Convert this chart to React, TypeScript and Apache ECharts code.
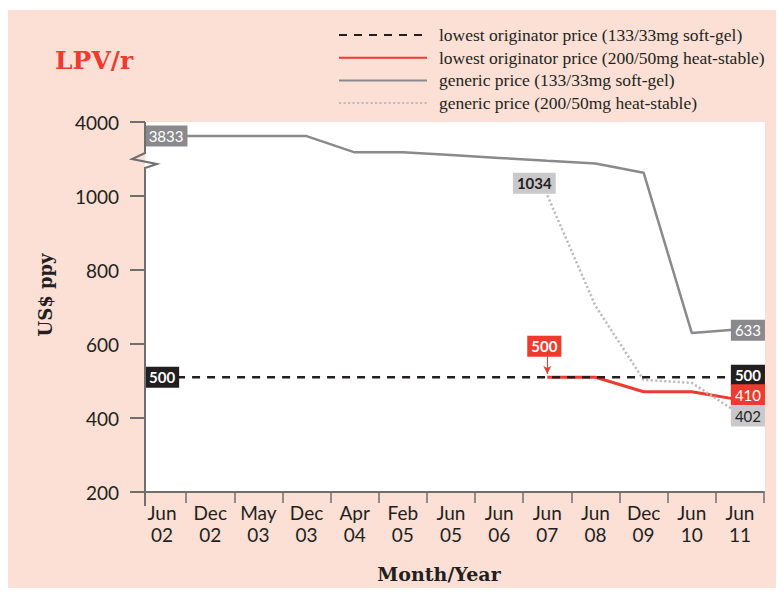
import React, { useEffect, useRef } from 'react';
import * as echarts from 'echarts';

// ---- data ----
const categories = ['Jun\n02', 'Dec\n02', 'May\n03', 'Dec\n03', 'Apr\n04', 'Feb\n05', 'Jun\n05', 'Jun\n06', 'Jun\n07', 'Jun\n08', 'Dec\n09', 'Jun\n10', 'Jun\n11'];

const seriesNames = [
  'lowest originator price (133/33mg soft-gel)',
  'lowest originator price (200/50mg heat-stable)',
  'generic price (133/33mg soft-gel)',
  'generic price (200/50mg heat-stable)',
];

// US$ per patient per year
const originatorSoftGel = [510, 510, 510, 510, 510, 510, 510, 510, 510, 510, 510, 510, 510];
const originatorHeatStable = [null, null, null, null, null, null, null, null, 510, 510, 471, 471, 449];
const genericSoftGel = [3833, 3833, 3833, 3833, 3063, 3063, 2941, 2801, 2661, 2539, 2102, 630, 640];
const genericHeatStable = [null, null, null, null, null, null, null, null, 1034, 703, 503, 495, 411];

// y-axis ticks (shown scale) — the top tick lies above the axis break
const yMin = 200;
const yMax = 1200;
const yStep = 200;

// axis break: real values above 1000 are compressed
const breakReal = [1000, 3833, 4000];
const breakShown = [1000, 1162, 1200];

// value callouts: [series index, category index, text]
const calloutSeries = [2, 0, 2, 0, 1, 3, 3, 1];
const calloutIndex = [0, 0, 12, 12, 12, 12, 8, 8];
const calloutText = ['3833', '500', '633', '500', '410', '402', '1034', '500'];

const COLORS = {
  black: '#231f20',
  red: '#ee3a2f',
  gray: '#8a8a8d',
  light: '#bcbcbf',
  lightBox: '#c9c9cb',
  axis: '#6f6f6f',
  pink: '#fcdfd5',
};

function toShown(v: number | null): number | null {
  if (v === null) return null;
  if (v <= breakReal[0]) return v;
  for (let i = 1; i < breakReal.length; i++) {
    if (v <= breakReal[i] || i === breakReal.length - 1) {
      const t = (v - breakReal[i - 1]) / (breakReal[i] - breakReal[i - 1]);
      return breakShown[i - 1] + t * (breakShown[i] - breakShown[i - 1]);
    }
  }
  return v;
}

function toReal(s: number): number {
  if (s <= breakShown[0]) return s;
  for (let i = 1; i < breakShown.length; i++) {
    if (s <= breakShown[i] || i === breakShown.length - 1) {
      const t = (s - breakShown[i - 1]) / (breakShown[i] - breakShown[i - 1]);
      return Math.round(breakReal[i - 1] + t * (breakReal[i] - breakReal[i - 1]));
    }
  }
  return s;
}

const allData = [originatorSoftGel, originatorHeatStable, genericSoftGel, genericHeatStable];

function calloutLook(k: number) {
  const text = calloutText[k];
  const s = calloutSeries[k];
  const idx = calloutIndex[k];
  let bg = COLORS.gray;
  let color = '#ffffff';
  let weight: any = 'normal';
  let offset = [0, 0];
  if (s === 0) { bg = COLORS.black; weight = 'bold'; }
  if (s === 1) { bg = COLORS.red; }
  if (s === 3) { bg = COLORS.lightBox; color = COLORS.black; }
  if (s === 2 && idx === 0) offset = [4, 0];
  if (idx === 12) {
    offset = s === 2 ? [8, 1] : s === 0 ? [8, -2] : s === 1 ? [8, -5] : [8, 2];
  }
  if (s === 3 && idx === 8) { offset = [-13, -12]; weight = 'bold'; }
  if (s === 1 && idx === 8) { offset = [-3, -31]; weight = 'bold'; }
  return {
    coord: [idx, toShown(allData[s][idx] as number)],
    symbolSize: 1,
    itemStyle: { color: 'rgba(0,0,0,0)' },
    label: {
      show: true,
      position: 'inside',
      formatter: text,
      backgroundColor: bg,
      color,
      fontWeight: weight,
      fontFamily: 'Lato',
      fontSize: 15,
      lineHeight: 17,
      padding: [2, 4, 2, 4],
      offset,
    },
  };
}

function calloutsFor(s: number) {
  const out: any[] = [];
  for (let k = 0; k < calloutText.length; k++) if (calloutSeries[k] === s) out.push(calloutLook(k));
  return out;
}

export default function App() {
  const ref = useRef<HTMLDivElement>(null);
  useEffect(() => {
    if (!ref.current) return;
    const chart = echarts.init(ref.current, null, { renderer: 'svg' });

    const lineStyles = [
      { color: COLORS.black, width: 2.5, type: [8, 7] },
      { color: COLORS.red, width: 3, type: 'solid' },
      { color: COLORS.gray, width: 2.5, type: 'solid' },
      { color: COLORS.light, width: 2.5, type: [2.2, 2.3] },
    ];

    const series: any[] = allData.map((arr, s) => ({
      name: seriesNames[s],
      type: 'line',
      data: arr.map((v) => toShown(v as any)),
      symbol: 'none',
      z: s === 0 ? 4 : 2,
      lineStyle: lineStyles[s],
      itemStyle: { color: lineStyles[s].color },
      connectNulls: false,
      markPoint: {
        symbol: 'circle',
        silent: true,
        z: 6,
        data: calloutsFor(s),
      },
    }));

    // arrow from the red "500" callout to the line
    series[1].markLine = {
      silent: true,
      symbol: ['none', 'arrow'],
      symbolSize: [6, 8],
      label: { show: false },
      lineStyle: { color: COLORS.red, width: 1, type: 'solid' },
      data: [[{ coord: [8, 572] }, { coord: [8, 519] }]],
    };

    chart.setOption({
      animation: false,
      textStyle: { fontFamily: 'Lato' },
      title: {
        text: 'LPV/r',
        left: 55,
        top: 48,
        padding: 0,
        textStyle: { fontFamily: 'DejaVu Serif', fontWeight: 'bold', fontSize: 25, color: COLORS.red },
      },
      legend: {
        orient: 'vertical',
        left: 338,
        top: 26,
        padding: 0,
        itemWidth: 88,
        itemHeight: 16,
        itemGap: 4.7,
        data: seriesNames,
        itemStyle: { color: 'rgba(0,0,0,0)', borderWidth: 0, opacity: 0 },
        textStyle: { fontFamily: 'Liberation Serif', fontSize: 17.5, lineHeight: 16, color: COLORS.black, padding: [0, 0, 0, 7] },
      },
      grid: { left: 138, right: 20, top: 122, bottom: 103, containLabel: false },
      xAxis: {
        type: 'category',
        data: categories,
        boundaryGap: true,
        axisLine: { lineStyle: { color: COLORS.axis, width: 2 } },
        axisTick: { show: true, length: 11, interval: (i: number) => i !== 0, lineStyle: { color: COLORS.axis, width: 1.5 } },
        axisLabel: { interval: 0, margin: 9, fontFamily: 'Lato', fontSize: 19, lineHeight: 22, color: COLORS.black },
      },
      yAxis: {
        type: 'value',
        min: yMin,
        max: yMax,
        interval: yStep,
        offset: -7,
        axisLine: { show: false },
        axisTick: { show: true, length: 15, lineStyle: { color: COLORS.axis, width: 2 } },
        splitLine: { show: false },
        axisLabel: { margin: 26, fontFamily: 'Lato', fontSize: 19, color: COLORS.black, formatter: (v: number) => String(toReal(v)) },
      },
      graphic: [
        { type: 'rect', z: -20, silent: true, shape: { x: 8, y: 10, width: 768, height: 578 }, style: { fill: COLORS.pink } },
        { type: 'rect', z: -19, silent: true, shape: { x: 145, y: 122, width: 620, height: 370 }, style: { fill: '#ffffff' } },
        {
          type: 'polyline',
          z: 10,
          silent: true,
          shape: { points: [[145, 122], [145, 153], [132, 159], [157, 164], [145, 168], [145, 506]] },
          style: { stroke: COLORS.axis, lineWidth: 2, fill: 'none' },
        },
        {
          type: 'text',
          z: 10,
          x: 45,
          y: 295,
          rotation: Math.PI / 2,
          style: { text: 'US$ ppy', fontFamily: 'DejaVu Serif', fontWeight: 'bold', fontSize: 18, fill: COLORS.black, align: 'center', verticalAlign: 'middle' },
        },
        {
          type: 'text',
          z: 10,
          x: 439,
          y: 574,
          style: { text: 'Month/Year', fontFamily: 'DejaVu Serif', fontWeight: 'bold', fontSize: 19, fill: COLORS.black, align: 'center', verticalAlign: 'middle' },
        },
      ],
      series,
    });

    return () => chart.dispose();
  }, []);

  return (
    <div
      ref={ref}
      style={{ position: 'absolute', left: 0, top: 0, width: 784, height: 595, background: '#ffffff' }}
    />
  );
}
